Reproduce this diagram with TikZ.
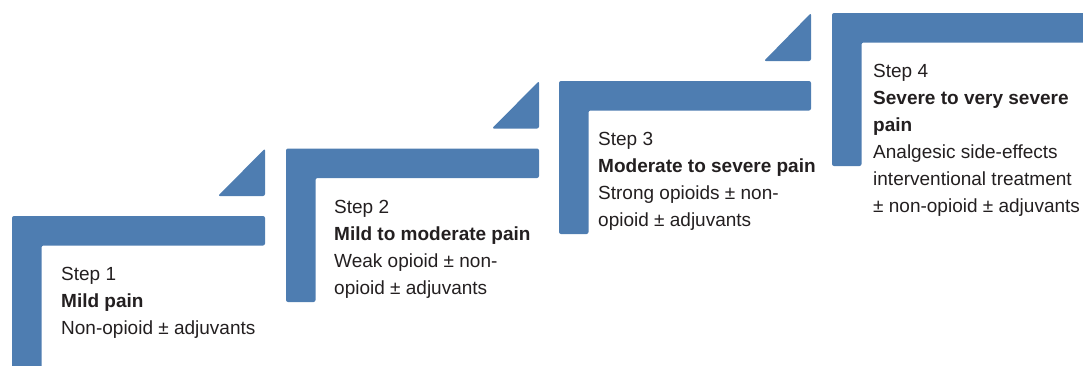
\documentclass[tikz,border=0pt]{standalone}
\usepackage{fontspec}
\setmainfont{Liberation Sans}
\definecolor{stepblue}{RGB}{78,125,177}
\definecolor{txtgray}{RGB}{35,31,32}
\begin{document}
\begin{tikzpicture}[x=1pt,y=-1pt,
  bracket/.style={fill=stepblue,draw=none,rounded corners=2pt},
  wedge/.style={fill=stepblue,draw=none,rounded corners=2pt},
  steptext/.style={anchor=north west,inner sep=0pt,align=left,text=txtgray,
    font=\fontsize{19}{27}\selectfont}]
\useasboundingbox (0,0) rectangle (1083,365);
\clip (0,0) rectangle (1083,365);
% step brackets: left, top, right end, bottom
\def\thk{29.5}
\foreach \L/\T/\R/\B [count=\i] in {12/216/265/380, 286/148.5/539/302, 559/81/811/234, 832/13/1100/166}{
  \fill[bracket] (\L,\T) -- (\R,\T) -- (\R,\T+\thk) -- (\L+\thk,\T+\thk) -- (\L+\thk,\B) -- (\L,\B) -- cycle;
}
% wedges: right, top, bottom
\foreach \R/\T/\Bo in {265/148.5/196, 539/81/128.5, 811/13/61}{
  \fill[wedge] (\R-47,\Bo) -- (\R,\T) -- (\R,\Bo) -- cycle;
}
\node[steptext] (s1) at (61,267.1) {Step 1\\\textbf{Mild pain}\\Non-opioid ± adjuvants};
\node[steptext] (s2) at (334,199.6) {Step 2\\\textbf{Mild to moderate pain}\\Weak opioid ± non-\\opioid ± adjuvants};
\node[steptext] (s3) at (598,132.1) {Step 3\\\textbf{Moderate to severe pain}\\Strong opioids ± non-\\opioid ± adjuvants};
\node[steptext] (s4) at (873,64.1) {Step 4\\\textbf{Severe to very severe}\\\textbf{pain}\\Analgesic side-effects\\interventional treatment\\± non-opioid ± adjuvants};
\end{tikzpicture}
\end{document}
